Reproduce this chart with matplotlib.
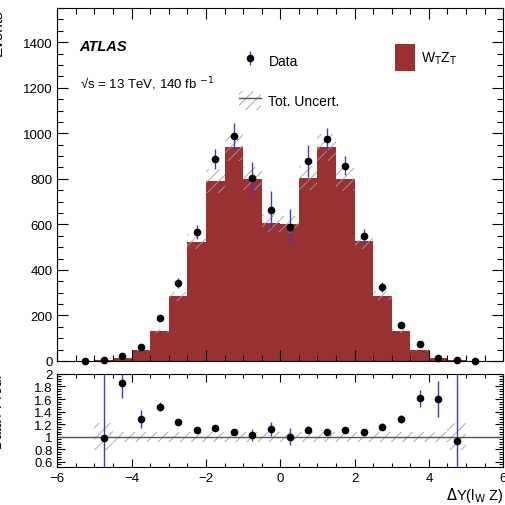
import numpy as np
import matplotlib
matplotlib.use("Agg")
import matplotlib.pyplot as plt
from matplotlib.ticker import MultipleLocator
from matplotlib.lines import Line2D
from matplotlib.patches import Patch

plt.rcParams['font.family'] = ['Liberation Sans', 'DejaVu Sans']
plt.rcParams['hatch.color'] = '#a0a0a0'
plt.rcParams['hatch.linewidth'] = 0.6

# bins in Delta Y(l_W Z)
edges = np.arange(-5.5, 5.51, 0.5)
centers = edges[:-1] + 0.25

# prediction (W_T Z_T) per bin
mc = [1, 3, 12, 48, 132, 284, 524, 791, 938, 801, 605,
      600, 805, 938, 798, 526, 287, 130, 48, 13, 3, 1]
mc_unc = [0.30, 0.22, 0.12, 0.08, 0.07, 0.065, 0.065, 0.065, 0.065, 0.065, 0.065,
          0.065, 0.065, 0.065, 0.065, 0.065, 0.065, 0.07, 0.08, 0.12, 0.22, 0.30]

# data
data = [0, 3, 20, 60, 187, 344, 567, 889, 990, 804, 665,
        590, 878, 974, 858, 549, 326, 157, 73, 15, 3, 0]
data_err = [0, 3, 5, 8, 12, 22, 31, 44, 57, 71, 81,
            78, 72, 51, 42, 31, 23, 12, 7, 5, 3, 0]

# data / prediction
ratio = [np.nan, 0.98, 1.86, 1.28, 1.475, 1.235, 1.10, 1.14, 1.07, 1.025, 1.12,
         1.00, 1.11, 1.07, 1.10, 1.07, 1.16, 1.28, 1.61, 1.60, 0.93, np.nan]
ratio_err = [0, 2.0, 0.24, 0.15, 0.07, 0.05, 0.03, 0.03, 0.03, 0.09, 0.11,
             0.14, 0.06, 0.03, 0.03, 0.03, 0.05, 0.07, 0.14, 0.29, 2.0, 0]
ratio_band = [0.0, 0.22, 0.08, 0.08, 0.08, 0.08, 0.08, 0.08, 0.08, 0.08, 0.08,
              0.08, 0.08, 0.08, 0.08, 0.08, 0.08, 0.08, 0.08, 0.08, 0.22, 0.0]

mc = np.array(mc, float)
up = mc * (1 + np.array(mc_unc))
dn = mc * (1 - np.array(mc_unc))

red = '#993132'
blue = '#3a3ad0'
hatch = '///'

fig = plt.figure(figsize=(5.05, 5.06), dpi=100)
ax = fig.add_axes([0.1135, 0.2846, 0.883, 0.6974])
rax = fig.add_axes([0.1135, 0.0757, 0.883, 0.1833])

# main panel
ax.bar(centers, mc, width=0.5, color=red, linewidth=0, zorder=1)
ax.fill_between(edges, np.append(dn, dn[-1]), np.append(up, up[-1]), step='post',
                facecolor='none', edgecolor='#a0a0a0', hatch=hatch, linewidth=0, zorder=2)
ax.errorbar(centers, data, yerr=data_err, fmt='o', color='black', ms=4.5,
            ecolor=blue, elinewidth=1.0, capsize=0, zorder=3, clip_on=False)
ax.set_xlim(-6, 6)
ax.set_ylim(0, 1550)
ax.set_ylabel('Events', fontsize=11, loc='top')
ax.yaxis.set_label_coords(-0.118, 1.0)

ax.text(0.05, 0.88, 'ATLAS', transform=ax.transAxes, fontsize=10.5,
        fontweight='bold', fontstyle='italic')
ax.text(0.05, 0.775, '√s = 13 TeV, 140 fb $^{-1}$', transform=ax.transAxes,
        fontsize=9.5)

h_data = ax.errorbar([], [], yerr=[], fmt='o', color='black', ms=4.5, ecolor=blue, elinewidth=1.0)
h_unc = (Patch(facecolor='none', edgecolor='#a0a0a0', hatch=hatch, linewidth=0),
         Line2D([], [], color='#555555', lw=1))
leg1 = ax.legend([h_data, h_unc], ['Data', 'Tot. Uncert.'], loc='upper left',
                 bbox_to_anchor=(0.38, 0.9145), frameon=False, fontsize=10,
                 handlelength=1.6, handleheight=1.8, labelspacing=1.45, handletextpad=0.5)
ax.add_artist(leg1)
ax.legend([Patch(facecolor=red)], [r'W$_{\rm T}$Z$_{\rm T}$'], loc='upper left',
          bbox_to_anchor=(0.729, 0.935), frameon=False, fontsize=10,
          handlelength=1.45, handleheight=2.7, handletextpad=0.4)

# ratio panel
rax.fill_between(edges, np.append(1 - np.array(ratio_band), 1), np.append(1 + np.array(ratio_band), 1),
                 step='post', facecolor='none', edgecolor='#a0a0a0', hatch=hatch, linewidth=0)
rax.axhline(1, color='#555555', lw=1)
rax.errorbar(centers, ratio, yerr=ratio_err, fmt='o', color='black', ms=4.5,
             ecolor=blue, elinewidth=1.0, capsize=0)
rax.set_xlim(-6, 6)
rax.set_ylim(0.52, 2.0)
rax.set_yticks([0.6, 0.8, 1, 1.2, 1.4, 1.6, 1.8, 2])
rax.set_yticklabels(['0.6', '0.8', '1', '1.2', '1.4', '1.6', '1.8', '2'])
rax.set_xlabel(r'$\Delta$Y(l$_{\rm W}$ Z)', fontsize=10.5, loc='right', labelpad=1)
rax.set_ylabel('Data / Pred.', fontsize=10, loc='top')
rax.yaxis.set_label_coords(-0.118, 1.0)

for a in (ax, rax):
    a.tick_params(which='both', direction='in', top=True, right=True, labelsize=9.5)
    a.tick_params(which='major', length=8, width=0.8)
    a.tick_params(which='minor', length=4, width=0.8)
    a.xaxis.set_major_locator(MultipleLocator(2))
    a.xaxis.set_minor_locator(MultipleLocator(0.5))
    for s in a.spines.values():
        s.set_linewidth(0.8)
ax.tick_params(labelbottom=False)
ax.yaxis.set_major_locator(MultipleLocator(200))
ax.yaxis.set_minor_locator(MultipleLocator(50))
rax.yaxis.set_minor_locator(MultipleLocator(0.04))
rax.tick_params(which='major', length=6)
rax.tick_params(which='minor', length=3)

fig.savefig('out.png', dpi=100)
